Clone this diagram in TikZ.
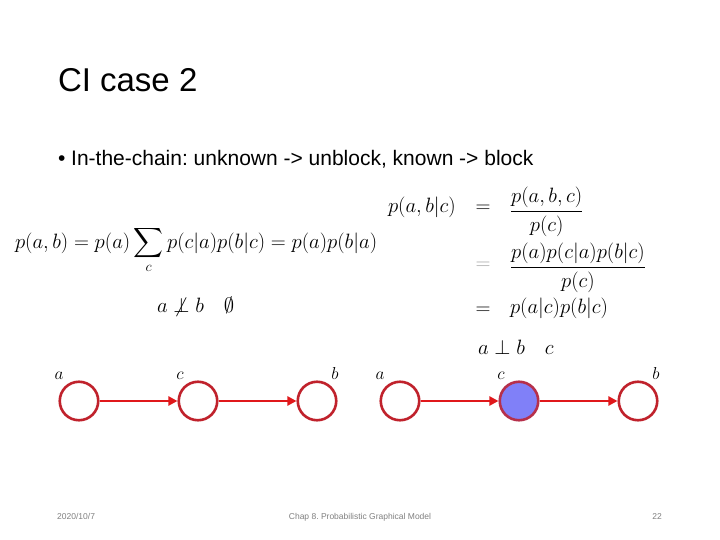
\documentclass[tikz,border=0pt]{standalone}
\usepackage[no-math]{fontspec}
\setmainfont{Liberation Sans}
\usepackage{amsmath}
\usetikzlibrary{arrows.meta}
\frenchspacing
\definecolor{nodered}{HTML}{C0222C}
\definecolor{arrred}{HTML}{E0181B}
\definecolor{obsblue}{HTML}{8080F8}
\definecolor{footgray}{HTML}{808080}
\tikzset{
  txt/.style={inner sep=0pt, outer sep=0pt},
  mth/.style={inner sep=0pt, outer sep=0pt, font=\fontsize{20}{24}\selectfont},
  var/.style={circle, draw=nodered, line width=2.6pt, minimum size=38.5pt, inner sep=0pt, fill=white},
  obs/.style={var, fill=obsblue, draw=nodered!85!obsblue},
  edge/.style={draw=arrred, line width=2.2pt, -{Triangle[length=9pt,width=9pt]}},
  lbl/.style={inner sep=0pt, anchor=base, font=\fontsize{17.5}{20}\selectfont},
  foot/.style={inner sep=0pt, text=footgray, font=\fontsize{8.5}{10}\selectfont}
}
\begin{document}
\begin{tikzpicture}[x=1pt,y=-1pt]
\useasboundingbox[fill=white] (0,0) rectangle (720,540);
% title and bullet
\node[txt, anchor=base west, font=\fontsize{33}{36}\selectfont] (title) at (58,92) {CI case 2};
\node[txt, anchor=base west, font=\fontsize{21}{24}\selectfont] (bullet) at (58,166) {\textbullet\ In-the-chain: unknown -> unblock, known -> block};
% left formula
\node[mth, anchor=base west] (lf) at (15,248) {$\displaystyle p(a,b) = p(a)\sum_c p(c|a)p(b|c) = p(a)p(b|a)$};
\node[mth, anchor=base west] (nind) at (157,312) {$a \not\perp b \quad \emptyset$};
% right formulas
\node[mth, anchor=base west] (lhs) at (388,213) {$p(a,b|c)$};
\node[mth, anchor=base] (eq1) at (483,212.5) {$=$};
\node[mth, anchor=base west] (fr1) at (510,217) {$\dfrac{p(a,b,c)}{p(c)}$};
\node[mth, anchor=base, text=gray!70] (eq2) at (483,269) {$=$};
\node[mth, anchor=base west] (fr2) at (510,273) {$\dfrac{p(a)p(c|a)p(b|c)}{p(c)}$};
\node[mth, anchor=base] (eq3) at (483,314) {$=$};
\node[mth, anchor=base west] (r3) at (510,313) {$p(a|c)p(b|c)$};
\node[mth, anchor=base west] (ind) at (478,354) {$a \perp b \quad c$};
% left graph
\node[var] (a1) at (79,401) {};
\node[var] (c1) at (198,401) {};
\node[var] (b1) at (317,401) {};
\draw[edge] (a1) -- (c1);
\draw[edge] (c1) -- (b1);
\node[lbl] (la1) at (59,379) {$a$};
\node[lbl] (lc1) at (180,379) {$c$};
\node[lbl] (lb1) at (335,379) {$b$};
% right graph
\node[var] (a2) at (400,401) {};
\node[obs] (c2) at (519,401) {};
\node[var] (b2) at (638,401) {};
\draw[edge] (a2) -- (c2);
\draw[edge] (c2) -- (b2);
\node[lbl] (la2) at (380,379) {$a$};
\node[lbl] (lc2) at (501,379) {$c$};
\node[lbl] (lb2) at (656,379) {$b$};
% footer
\node[foot, anchor=base west] (f1) at (57,519) {2020/10/7};
\node[foot, anchor=base] (f2) at (360,519) {Chap 8. Probabilistic Graphical Model};
\node[foot, anchor=base east] (f3) at (662,519) {22};
\end{tikzpicture}
\end{document}
